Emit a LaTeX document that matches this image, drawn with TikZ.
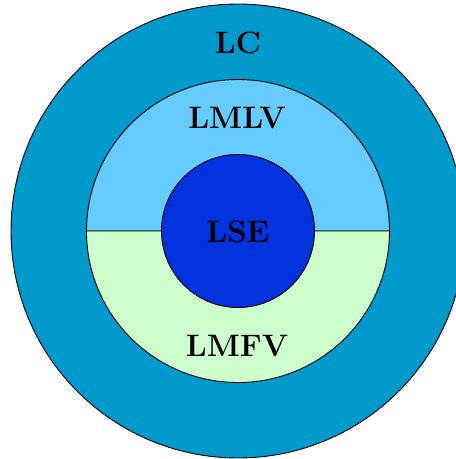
\documentclass[tikz,border=0pt]{standalone}
\begin{document}
\begin{tikzpicture}[x=1pt,y=1pt,
  lbl/.style={font=\fontsize{31}{34}\selectfont\bfseries, inner sep=0pt}]
\definecolor{outerc}{RGB}{0,153,204}
\definecolor{topc}{RGB}{102,204,255}
\definecolor{botc}{RGB}{204,255,204}
\definecolor{corec}{RGB}{0,51,221}
\useasboundingbox (0,0) rectangle (456,459);
\coordinate (c) at (238,228);
\filldraw[fill=outerc, draw=black, line width=0.9pt] (c) circle (227);
\filldraw[fill=topc, draw=black, line width=0.9pt] ([xshift=-151.5]c) arc (180:0:151.5) -- cycle;
\filldraw[fill=botc, draw=black, line width=0.9pt] ([xshift=-151.5]c) arc (180:360:151.5) -- cycle;
\filldraw[fill=corec, draw=black, line width=0.9pt] (c) circle (76.5);
\node[lbl] (lc) at (238,416) {LC};
\node[lbl] (lmlv) at (237,341) {LMLV};
\node[lbl] (lse) at (238,227) {LSE};
\node[lbl] (lmfv) at (237,113) {LMFV};
\end{tikzpicture}
\end{document}
